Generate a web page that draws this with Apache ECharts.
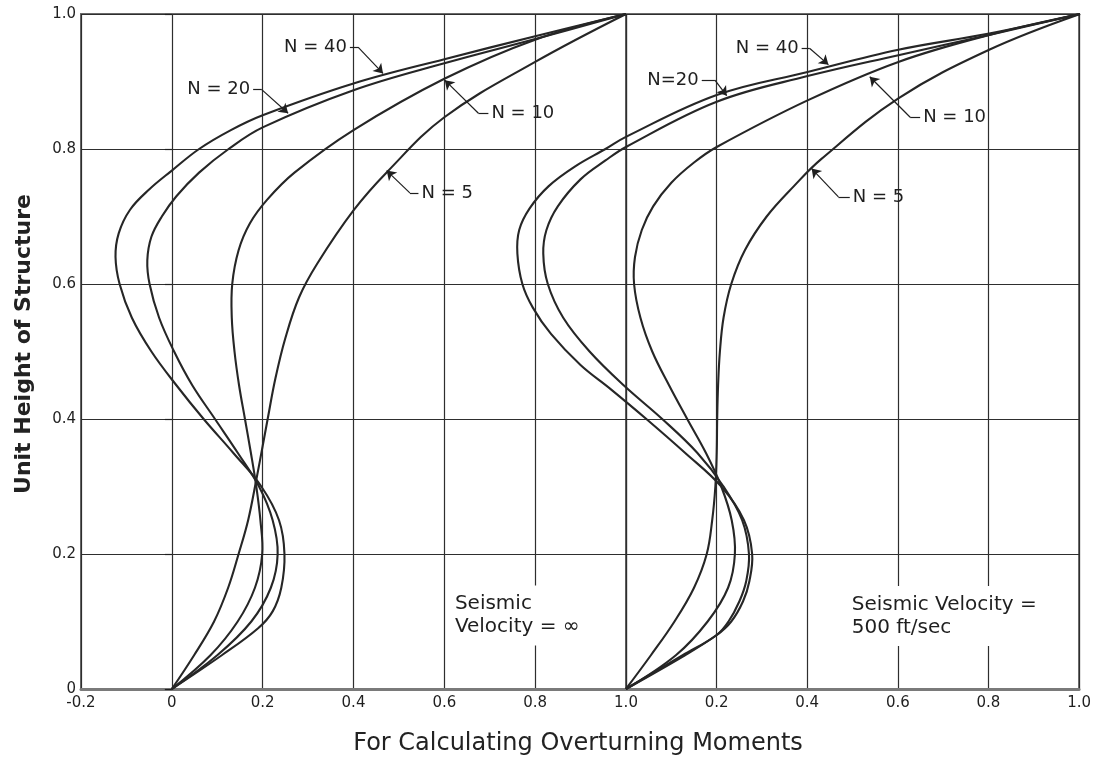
<!DOCTYPE html>
<html>
<head>
<meta charset="utf-8">
<script src="https://cdn.jsdelivr.net/npm/echarts@6/dist/echarts.min.js"></script>
<style>
  html, body { margin: 0; padding: 0; background: #ffffff; }
  #chart { width: 1094px; height: 763px; }
</style>
</head>
<body>
<div id="chart"></div>
<script>
// Overturning-moment distribution curves, [moment coefficient, unit height]
// Left panel: seismic velocity = infinity
const leftN5 = [[0,0],[0.049,0.05],[0.093,0.1],[0.124,0.15],[0.147,0.2],[0.168,0.25],[0.186,0.31],[0.2,0.36],[0.211,0.4],[0.228,0.46],[0.25,0.52],[0.28,0.58],[0.32,0.63],[0.4,0.709],[0.474,0.766],[0.6,0.847],[0.8,0.929],[1.0,1.0]];
const leftN10 = [[0,0],[0.085,0.05],[0.145,0.1],[0.183,0.15],[0.199,0.2],[0.195,0.25],[0.186,0.3],[0.174,0.35],[0.161,0.4],[0.148,0.45],[0.138,0.5],[0.132,0.55],[0.133,0.6],[0.147,0.65],[0.172,0.69],[0.21,0.725],[0.27,0.765],[0.4,0.828],[0.6,0.904],[0.8,0.962],[1.0,1.0]];
const leftN20 = [[0,0],[0.1,0.05],[0.175,0.1],[0.218,0.15],[0.233,0.2],[0.222,0.25],[0.192,0.3],[0.145,0.35],[0.095,0.4],[0.045,0.45],[0.005,0.5],[-0.028,0.55],[-0.049,0.6],[-0.054,0.635],[-0.045,0.67],[-0.022,0.7],[0.01,0.73],[0.06,0.765],[0.125,0.8],[0.2,0.832],[0.4,0.887],[0.6,0.927],[0.8,0.963],[1.0,1.0]];
const leftN40 = [[0,0],[0.11,0.05],[0.19,0.09],[0.222,0.115],[0.241,0.15],[0.248,0.2],[0.236,0.25],[0.197,0.3],[0.135,0.35],[0.07,0.4],[0.01,0.45],[-0.045,0.5],[-0.088,0.55],[-0.115,0.6],[-0.124,0.64],[-0.117,0.675],[-0.092,0.71],[-0.05,0.74],[0,0.768],[0.06,0.8],[0.13,0.828],[0.2,0.85],[0.4,0.897],[0.6,0.933],[0.8,0.967],[1.0,1.0]];

// Right panel: seismic velocity = 500 ft/sec
const rightN5 = [[0,0],[0.055,0.05],[0.107,0.1],[0.15,0.15],[0.178,0.2],[0.19,0.25],[0.197,0.3],[0.2,0.35],[0.201,0.4],[0.203,0.45],[0.207,0.5],[0.215,0.55],[0.232,0.6],[0.262,0.65],[0.31,0.7],[0.37,0.745],[0.43,0.785],[0.6,0.875],[0.8,0.947],[1.0,1.0]];
const rightN10 = [[0,0],[0.11,0.05],[0.18,0.1],[0.225,0.15],[0.24,0.2],[0.233,0.25],[0.21,0.3],[0.176,0.35],[0.135,0.4],[0.095,0.45],[0.058,0.5],[0.032,0.55],[0.018,0.6],[0.02,0.64],[0.035,0.68],[0.06,0.715],[0.1,0.75],[0.15,0.78],[0.2,0.803],[0.4,0.872],[0.6,0.929],[0.8,0.969],[1.0,1.0]];
const rightN20 = [[0,0],[0.125,0.05],[0.2,0.08],[0.226,0.1],[0.25,0.13],[0.265,0.16],[0.271,0.2],[0.256,0.25],[0.215,0.3],[0.157,0.35],[0.08,0.4],[-0.005,0.45],[-0.08,0.5],[-0.138,0.55],[-0.172,0.6],[-0.182,0.645],[-0.175,0.68],[-0.15,0.715],[-0.1,0.755],[-0.045,0.783],[0,0.803],[0.2,0.87],[0.4,0.908],[0.6,0.939],[0.8,0.969],[1.0,1.0]];
const rightN40 = [[0,0],[0.13,0.05],[0.2,0.08],[0.232,0.1],[0.258,0.13],[0.272,0.16],[0.278,0.2],[0.26,0.25],[0.21,0.3],[0.13,0.35],[0.045,0.4],[-0.035,0.445],[-0.1,0.48],[-0.165,0.526],[-0.205,0.565],[-0.228,0.6],[-0.239,0.645],[-0.235,0.68],[-0.212,0.712],[-0.17,0.745],[-0.11,0.775],[-0.045,0.8],[0,0.818],[0.2,0.88],[0.4,0.914],[0.6,0.947],[0.8,0.971],[1.0,1.0]];

// Axis ranges and text
const leftTicks = { min: -0.2, max: 1.0, step: 0.2 };
const rightTicks = { min: 0, max: 1.0, step: 0.2 };
const heightTicks = { min: 0, max: 1.0, step: 0.2 };
const xTitle = 'For Calculating Overturning Moments';
const yTitle = 'Unit Height of Structure';
const leftNote = 'Seismic\nVelocity = \u221E';
const rightNote = 'Seismic Velocity =\n500 ft/sec';

const INK = '#1f1f1f';
const FONT = '"DejaVu Sans", "Liberation Sans", sans-serif';

// grid 0: left panel, grid 1: right panel,
// grid 2: invisible full-width frame whose zero sits on the right panel's origin,
// so right-panel curves may swing back over the left panel
const G_LEFT = 0, G_RIGHT = 1, G_RIGHT_FREE = 2;

function fmt(v) {
  return Math.abs(v) < 1e-9 ? '0' : v.toFixed(1);
}

// one smooth curve per series: the whole point list is projected through
// the axes and drawn as a single spline when the first item renders
function curve(data, gi) {
  return {
    type: 'custom', xAxisIndex: gi, yAxisIndex: gi, data: data,
    encode: { x: 0, y: 1 }, silent: true, animation: false, clip: false, z: 3,
    renderItem: function (params, api) {
      if (params.dataIndex !== 0) return null;
      const pts = data.map(p => api.coord(p));
      return {
        type: 'polyline',
        shape: { points: pts, smooth: 0.38 },
        style: { stroke: '#262626', lineWidth: 2.1, fill: null, lineJoin: 'round' }
      };
    }
  };
}

// leader line from a label to its curve, ending in an arrowhead
function leader(gi, text, side, start, bend, tip) {
  return {
    type: 'line', xAxisIndex: gi, yAxisIndex: gi, data: [], silent: true, animation: false,
    markLine: {
      silent: true, animation: false, symbolSize: 9,
      label: { show: false },
      lineStyle: { color: INK, width: 1.2, type: 'solid' },
      data: [
        [{ coord: start, symbol: 'none' }, { coord: bend, symbol: 'none' }],
        [{ coord: bend, symbol: 'none' }, { coord: tip, symbol: 'arrow' }]
      ]
    },
    markPoint: {
      silent: true, animation: false, symbol: 'circle', symbolSize: 0,
      data: [{
        coord: start,
        label: { show: true, position: side, distance: 3, formatter: text,
                 fontFamily: FONT, fontSize: 18, color: INK }
      }]
    }
  };
}

function note(gi, text, at) {
  return {
    type: 'line', xAxisIndex: gi, yAxisIndex: gi, data: [], silent: true, animation: false,
    markPoint: {
      silent: true, animation: false, symbol: 'circle', symbolSize: 0,
      data: [{
        coord: at,
        label: { show: true, position: 'right', distance: 0, formatter: text,
                 align: 'left', lineHeight: 23, fontFamily: FONT, fontSize: 20, color: INK,
                 backgroundColor: '#ffffff', padding: [7, 6, 7, 6] }
      }]
    }
  };
}

function xAxisFor(gi, t, hideZero) {
  return {
    type: 'value', gridIndex: gi, min: t.min, max: t.max, interval: t.step,
    axisLine: { show: true, onZero: false, lineStyle: { color: '#7a7a7a', width: 3 } },
    axisTick: { show: false },
    axisLabel: {
      showMinLabel: true, showMaxLabel: true, margin: 7,
      fontFamily: FONT, fontSize: 15, color: INK,
      formatter: v => (hideZero && Math.abs(v) < 1e-9) ? '' : fmt(v)
    },
    splitLine: { show: true, lineStyle: { color: '#2e2e2e', width: 1.2 } }
  };
}

function yAxisFor(gi, showLabels) {
  return {
    type: 'value', gridIndex: gi, min: heightTicks.min, max: heightTicks.max, interval: heightTicks.step,
    axisLine: { show: false },
    axisTick: { show: showLabels, length: 7, lineStyle: { color: INK, width: 1.2 } },
    axisLabel: { show: showLabels, margin: 5, fontFamily: FONT, fontSize: 15, color: INK, formatter: fmt },
    splitLine: { show: true, lineStyle: { color: '#2e2e2e', width: 1.2 } }
  };
}

const chart = echarts.init(document.getElementById('chart'), null, { renderer: 'canvas' });

chart.setOption({
  backgroundColor: '#ffffff',
  animation: false,
  grid: [
    { left: 81, top: 14, width: 545, bottom: 74, show: true, borderColor: '#6a6a6a', borderWidth: 2 },
    { left: 626, top: 14, right: 14, bottom: 74, show: true, borderColor: '#6a6a6a', borderWidth: 2 },
    { left: 81, top: 14, right: 14, bottom: 74, show: false }
  ],
  xAxis: [
    xAxisFor(G_LEFT, leftTicks, false),
    xAxisFor(G_RIGHT, rightTicks, true),
    { type: 'value', gridIndex: G_RIGHT_FREE, show: false,
      min: rightTicks.min - (leftTicks.max - leftTicks.min), max: rightTicks.max }
  ],
  yAxis: [
    yAxisFor(G_LEFT, true),
    yAxisFor(G_RIGHT, false),
    { type: 'value', gridIndex: G_RIGHT_FREE, show: false, min: heightTicks.min, max: heightTicks.max }
  ],
  graphic: [
    { type: 'text', x: 578, y: 744, silent: true,
      style: { text: xTitle, font: '24px ' + FONT, fill: '#222', align: 'center', verticalAlign: 'middle' } },
    { type: 'text', x: 24, y: 344, rotation: Math.PI / 2, silent: true,
      style: { text: yTitle, font: 'bold 22px ' + FONT, fill: '#222', align: 'center', verticalAlign: 'middle' } }
  ],
  series: [
    curve(leftN5, G_LEFT), curve(leftN10, G_LEFT), curve(leftN20, G_LEFT), curve(leftN40, G_LEFT),
    curve(rightN5, G_RIGHT_FREE), curve(rightN10, G_RIGHT_FREE), curve(rightN20, G_RIGHT_FREE), curve(rightN40, G_RIGHT_FREE),

    leader(G_LEFT, 'N = 40', 'left', [0.392, 0.951], [0.41, 0.951], [0.465, 0.912]),
    leader(G_LEFT, 'N = 20', 'left', [0.179, 0.888], [0.198, 0.888], [0.256, 0.853]),
    leader(G_LEFT, 'N = 10', 'right', [0.697, 0.853], [0.675, 0.853], [0.601, 0.902]),
    leader(G_LEFT, 'N = 5', 'right', [0.543, 0.735], [0.524, 0.735], [0.473, 0.768]),

    leader(G_RIGHT_FREE, 'N = 40', 'left', [0.387, 0.949], [0.405, 0.949], [0.446, 0.925]),
    leader(G_RIGHT_FREE, 'N=20', 'left', [0.167, 0.902], [0.196, 0.902], [0.222, 0.879]),
    leader(G_RIGHT_FREE, 'N = 10', 'right', [0.648, 0.847], [0.626, 0.847], [0.537, 0.907]),
    leader(G_RIGHT_FREE, 'N = 5', 'right', [0.493, 0.729], [0.468, 0.729], [0.409, 0.771]),

    note(G_LEFT, leftNote, [0.61, 0.109]),
    note(G_RIGHT, rightNote, [0.485, 0.108])
  ]
});
</script>
</body>
</html>
